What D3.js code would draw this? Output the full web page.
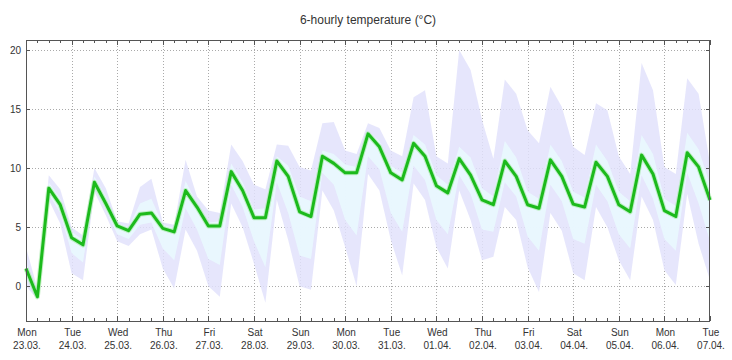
<!DOCTYPE html>
<html>
<head>
<meta charset="utf-8">
<script src="https://cdn.jsdelivr.net/npm/d3@7"></script>
<style>
  body { margin: 0; background: #fff; }
  svg text { font-family: "Liberation Sans", Arial, sans-serif; fill: #333; }
</style>
</head>
<body>
<svg id="chart" width="732" height="360"></svg>
<script>
// 6-hourly steps starting Mon 23.03. 00:00
const start = Date.UTC(2020, 2, 23);
const stepHours = 6;

const dayNames = ['Mon', 'Tue', 'Wed', 'Thu', 'Fri', 'Sat', 'Sun', 'Mon', 'Tue', 'Wed', 'Thu', 'Fri', 'Sat', 'Sun', 'Mon', 'Tue'];
const dayDates = ['23.03.', '24.03.', '25.03.', '26.03.', '27.03.', '28.03.', '29.03.', '30.03.', '31.03.', '01.04.', '02.04.', '03.04.', '04.04.', '05.04.', '06.04.', '07.04.'];
const yTicks = [0, 5, 10, 15, 20];

// main forecast
const temp = [1.5, -0.9, 8.3, 6.9, 4.1, 3.5, 8.8, 7.0, 5.1, 4.7, 6.1, 6.2, 4.9, 4.6, 8.1, 6.7,
  5.1, 5.1, 9.7, 8.1, 5.8, 5.8, 10.6, 9.3, 6.3, 5.9, 11.0, 10.4, 9.6, 9.6, 12.9, 11.8,
  9.6, 9.0, 12.1, 11.0, 8.5, 7.9, 10.8, 9.4, 7.3, 6.9, 10.6, 9.3, 6.9, 6.6, 10.7, 9.3,
  6.95, 6.7, 10.5, 9.3, 6.9, 6.3, 11.1, 9.5, 6.4, 5.9, 11.3, 10.1, 7.3];
// outer spread (min / max)
const outerHi = [3.3, -0.2, 9.4, 8.2, 5.0, 4.3, 10.0, 8.3, 5.5, 5.3, 8.4, 9.1, 5.4, 5.2, 10.7, 7.6,
  6.4, 6.2, 12.0, 10.6, 8.6, 8.2, 12.0, 11.9, 10.1, 9.8, 13.8, 13.9, 11.5, 11.2, 13.8, 13.4,
  11.5, 11.0, 16.0, 16.6, 11.0, 10.4, 20.0, 18.3, 14.1, 10.8, 17.5, 16.3, 13.2, 12.1, 16.9, 15.2,
  11.8, 11.1, 15.5, 14.9, 11.0, 9.5, 18.9, 16.6, 10.1, 9.5, 17.6, 16.3, 10.4];
const outerLo = [0.0, -1.1, 7.3, 5.3, 1.1, 0.5, 8.0, 6.0, 3.8, 3.4, 4.4, 4.8, 1.5, -0.2, 4.8, 3.0,
  0.0, -0.9, 7.0, 5.0, 1.9, -1.4, 7.3, 3.9, 0.0, -0.3, 8.1, 6.4, 3.3, 0.0, 9.5, 8.1,
  3.9, 0.9, 8.7, 7.3, 3.3, 1.5, 8.1, 5.6, 2.2, 2.5, 6.7, 5.6, 1.6, -0.5, 6.2, 4.7,
  1.1, 0.5, 6.7, 5.0, 2.2, 0.5, 7.6, 5.6, 1.35, 0.1, 7.8, 3.6, 0.5];
// inner spread
const innerHi = [2.0, -0.6, 8.8, 7.4, 4.6, 3.9, 9.3, 7.6, 5.3, 5.0, 7.0, 7.4, 5.2, 4.9, 8.9, 7.0,
  5.4, 5.5, 10.4, 8.8, 6.5, 6.6, 11.0, 10.2, 7.6, 7.2, 11.5, 11.2, 10.3, 10.1, 13.1, 12.3,
  10.2, 9.6, 12.8, 12.0, 9.4, 8.6, 11.8, 10.9, 8.3, 7.6, 12.3, 10.9, 8.0, 7.4, 12.0, 10.6,
  8.0, 7.5, 12.0, 10.6, 8.0, 7.2, 12.8, 11.2, 7.4, 6.8, 13.0, 11.6, 8.6];
const innerLo = [0.8, -1.0, 7.8, 6.2, 2.8, 2.0, 8.4, 6.5, 4.4, 4.0, 5.2, 5.4, 3.2, 2.2, 6.6, 4.8,
  2.3, 1.8, 8.6, 6.7, 3.8, 1.6, 8.8, 6.2, 2.6, 2.3, 9.6, 8.6, 5.6, 4.3, 11.0, 9.9,
  6.2, 4.6, 10.2, 9.0, 5.6, 4.4, 9.4, 7.8, 4.8, 4.6, 8.8, 7.6, 4.2, 3.0, 8.6, 7.2,
  4.0, 3.6, 8.6, 7.2, 4.4, 3.2, 9.4, 7.4, 4.0, 3.0, 9.6, 7.0, 3.8];

const plotLeft = 26, plotRight = 710, plotTop = 40, plotBottom = 321;
const svg = d3.select('#chart');

const times = temp.map((d, i) => new Date(start + i * stepHours * 3600e3));
const days = dayNames.map((d, i) => new Date(start + i * 24 * 3600e3));
const sixHours = d3.range(0, (dayNames.length - 1) * 4 + 1).map(i => new Date(start + i * stepHours * 3600e3));

const x = d3.scaleUtc()
  .domain([times[0], times[times.length - 1]])
  .range([plotLeft, plotRight]);
const y = d3.scaleLinear()
  .domain([-2.95, 20.85])
  .range([plotBottom, plotTop]);

// grid
const grid = svg.append('g').attr('stroke', '#aaa').attr('stroke-dasharray', '1,2').attr('stroke-width', 1);
grid.selectAll('line.v').data(days.slice(1, -1)).join('line')
  .attr('x1', d => Math.round(x(d)) + 0.5).attr('x2', d => Math.round(x(d)) + 0.5)
  .attr('y1', plotTop).attr('y2', plotBottom);
grid.selectAll('line.h').data(yTicks).join('line')
  .attr('x1', plotLeft).attr('x2', plotRight)
  .attr('y1', d => Math.round(y(d)) + 0.5).attr('y2', d => Math.round(y(d)) + 0.5);

// bands
const area = (lo, hi) => d3.area()
  .x((d, i) => x(times[i]))
  .y0((d, i) => y(lo[i]))
  .y1((d, i) => y(hi[i]));

svg.append('path').datum(temp)
  .attr('fill', '#e2e2fb').attr('fill-opacity', 0.85)
  .attr('d', area(outerLo, outerHi));
svg.append('path').datum(temp)
  .attr('fill', '#e9f8fe').attr('fill-opacity', 0.95)
  .attr('d', area(innerLo, innerHi));

// temperature line
const line = d3.line()
  .x((d, i) => x(times[i]))
  .y(d => y(d));
svg.append('path').datum(temp)
  .attr('fill', 'none').attr('stroke', '#9fe89f').attr('stroke-width', 5)
  .attr('stroke-linejoin', 'round').attr('opacity', 0.6)
  .attr('d', line);
svg.append('path').datum(temp)
  .attr('fill', 'none').attr('stroke', '#1cba1c').attr('stroke-width', 3)
  .attr('stroke-linejoin', 'round')
  .attr('d', line);

// frame
svg.append('rect')
  .attr('x', plotLeft + 0.5).attr('y', plotTop + 0.5)
  .attr('width', plotRight - plotLeft - 1).attr('height', plotBottom - plotTop)
  .attr('fill', 'none').attr('stroke', '#555');

// x axis: day ticks with two-line labels, 6-hour minor ticks
const xAxis = svg.append('g')
  .attr('transform', `translate(0.5, ${plotBottom + 0.5})`)
  .call(d3.axisBottom(x).tickValues(days).tickSize(0).tickPadding(7)
    .tickFormat((d, i) => dayNames[i]));
xAxis.select('.domain').remove();
xAxis.selectAll('.tick text')
  .attr('font-size', 10).attr('fill', '#333')
  .each(function (d, i) {
    d3.select(this).append('tspan')
      .attr('x', 0).attr('dy', '1.35em')
      .text(dayDates[i]);
  });

const tickG = svg.append('g').attr('stroke', '#555').attr('stroke-width', 1);
tickG.selectAll('line.bm').data(sixHours).join('line')
  .attr('x1', d => Math.round(x(d)) + 0.5).attr('x2', d => Math.round(x(d)) + 0.5)
  .attr('y1', plotBottom).attr('y2', (d, i) => plotBottom - (i % 4 === 0 ? 5 : 3));
tickG.selectAll('line.tm').data(sixHours).join('line')
  .attr('x1', d => Math.round(x(d)) + 0.5).attr('x2', d => Math.round(x(d)) + 0.5)
  .attr('y1', plotTop).attr('y2', (d, i) => plotTop + (i % 4 === 0 ? 5 : 3));

// y axes
const yAxis = svg.append('g')
  .attr('transform', `translate(${plotLeft}, 0.5)`)
  .call(d3.axisLeft(y).tickValues(yTicks).tickSize(0).tickPadding(5));
yAxis.select('.domain').remove();
yAxis.selectAll('.tick text').attr('font-size', 10).attr('fill', '#333');

tickG.selectAll('line.rl').data(yTicks).join('line')
  .attr('x1', plotRight).attr('x2', plotRight - 4)
  .attr('y1', d => Math.round(y(d)) + 0.5).attr('y2', d => Math.round(y(d)) + 0.5);
tickG.selectAll('line.ll').data(yTicks).join('line')
  .attr('x1', plotLeft).attr('x2', plotLeft + 4)
  .attr('y1', d => Math.round(y(d)) + 0.5).attr('y2', d => Math.round(y(d)) + 0.5);

// title
svg.append('text')
  .attr('x', (plotLeft + plotRight) / 2).attr('y', 24)
  .attr('text-anchor', 'middle').attr('font-size', 12).attr('fill', '#333')
  .text('6-hourly temperature (°C)');
</script>
</body>
</html>
